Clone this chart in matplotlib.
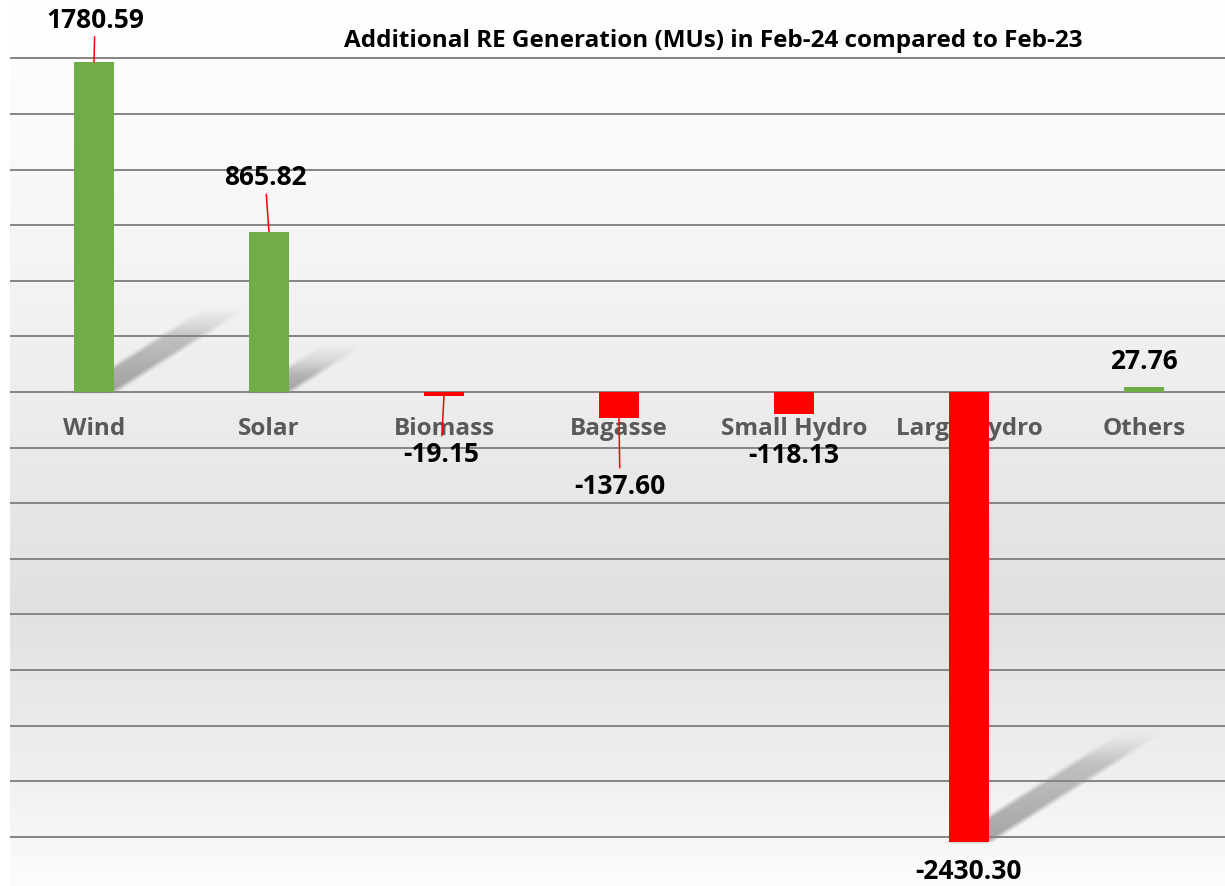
import numpy as np
import matplotlib.pyplot as plt

plt.rcParams['font.family'] = ['Open Sans', 'DejaVu Sans']

categories = ["Wind", "Solar", "Biomass", "Bagasse", "Small Hydro", "Large Hydro", "Others"]
values = [1780.59, 865.82, -19.15, -137.60, -118.13, -2430.30, 27.76]
title = "Additional RE Generation (MUs) in Feb-24 compared to Feb-23"

# where each value label sits, in pixels from the end of its bar
label_offsets = [(1, 43), (-4, 55), (-3, -58), (1, -68), (0, -41), (0, -28), (0, 26)]
leaders = [True, True, True, True, False, False, False]

W, H = 1225, 887
fig = plt.figure(figsize=(W / 100, H / 100), dpi=100)
fig.patch.set_facecolor('white')
ax = fig.add_axes([10 / W, 0, 1 - 10 / W, 1])

x = np.arange(len(categories))
bar_w = 0.229
xlim = (-0.48, 6.463)
ylim = (-2666, 2121)
ax.set_xlim(*xlim)
ax.set_ylim(*ylim)
ax.axis('off')

sx = (W - 10) / (xlim[1] - xlim[0])   # px per x unit
sy = H / (ylim[1] - ylim[0])          # px per MU

# background gradient
nrows, ncols = H, W - 10
frac = (np.arange(nrows) + 0.5) / nrows
grey = np.interp(frac, [0, 0.2, 0.45, 0.68, 0.85, 1.0],
                 [1.0, 0.975, 0.93, 0.88, 0.93, 0.99])
bg = np.repeat(grey[:, None], ncols, axis=1)

# soft cast shadows for the tall bars
X = xlim[0] + (np.arange(ncols) + 0.5) / sx
Y = ylim[1] - (np.arange(nrows) + 0.5) / sy
XX, YY = np.meshgrid(X, Y)


def smooth(d, width=8):
    return np.clip(d / width + 0.5, 0, 1)


for xi, v in zip(x, values):
    h = abs(v)
    if h * sy < 60:
        continue
    base = 0 if v > 0 else v
    a = 0.33 * h * sy / sx
    b = 0.21 * h
    t = (YY - base) / b
    u_px = (XX - (xi - bar_w / 2) - a * t) * sx
    w_px = bar_w * sx
    t_px = t * b * sy
    mask = (np.minimum(smooth(u_px, 10), smooth(w_px - u_px, 10))
            * smooth(t_px, 4) * smooth(b * sy - t_px, 30))
    alpha = 0.7 * (1 - 0.5 * np.clip(t, 0, 1)) * mask
    bg = bg * (1 - alpha) + 0.5 * alpha

ax.imshow(np.dstack([bg, bg, bg]), extent=(xlim[0], xlim[1], ylim[0], ylim[1]),
          aspect='auto', zorder=0, origin='upper')

for g in range(-2400, 1801, 300):
    ax.axhline(g, color='#858585', lw=1.4, zorder=1)

colors = ['#70AD47' if v > 0 else '#FF0000' for v in values]
ax.bar(x, values, width=bar_w, color=colors, zorder=3)

for xi, cat in zip(x, categories):
    ax.text(xi, -36 / sy, cat, ha='center', va='center', fontsize=17.5,
            fontweight='bold', color='#595959', zorder=2)

for xi, v, off, lead in zip(x, values, label_offsets, leaders):
    arrow = dict(arrowstyle='-', color='#FF0000', lw=1.1, shrinkA=1, shrinkB=0) if lead else None
    ax.annotate(f"{v:.2f}", xy=(xi, v), xytext=off, textcoords='offset pixels',
                ha='center', va='center', fontsize=19, fontweight='bold',
                color='black', zorder=5, arrowprops=arrow)

fig.text(713 / W, 1 - 41 / H, title, ha='center', va='center', fontsize=17.5,
         fontweight='bold', color='black')

fig.savefig('out.png', dpi=100)
